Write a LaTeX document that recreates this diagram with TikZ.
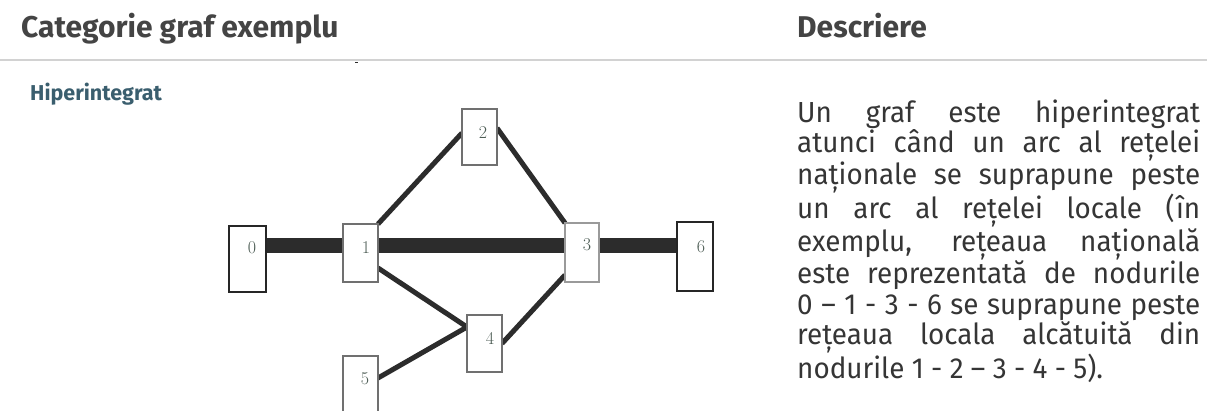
\documentclass[tikz,border=0pt]{standalone}
\usepackage{fontspec}
\newfontfamily\fira{Fira Sans}
\newfontfamily\firanarrow[FakeStretch=0.96]{Fira Sans}
\usetikzlibrary{backgrounds}
\definecolor{headgray}{HTML}{444444}
\definecolor{bodygray}{HTML}{353535}
\definecolor{catteal}{HTML}{3A5E6E}
\definecolor{rulegray}{HTML}{D2D2D2}
\definecolor{edgedark}{HTML}{2C2C2C}
\definecolor{boxgray}{HTML}{707070}
\definecolor{boxlight}{HTML}{9A9A9A}
\definecolor{boxdark}{HTML}{262626}
\definecolor{digitgray}{HTML}{4C5C54}
\tikzset{
  heading/.style={anchor=base west, inner sep=0pt, text=headgray,
    font=\fira\bfseries\fontsize{30}{32}\selectfont},
  catlabel/.style={anchor=base west, inner sep=0pt, text=catteal,
    font=\fira\bfseries\fontsize{21.5}{24}\selectfont},
  gbox/.style={draw=boxgray, line width=1.8pt, fill=white, inner sep=0pt,
    outer sep=0pt, minimum width=35pt, minimum height=57pt},
  digit/.style={text=digitgray, inner sep=0pt, font=\rmfamily\fontsize{18}{18}\selectfont},
  national/.style={draw=edgedark, line width=15pt},
  localedge/.style={draw=edgedark, line width=5pt},
}
\begin{document}
\begin{tikzpicture}[x=1pt, y=1pt]
\useasboundingbox (0,0) rectangle (1207,-410);

% column headings and separator
\node[heading] (hcat) at (21,-37) {Categorie graf exemplu};
\node[heading] (hdesc) at (797,-37) {Descriere};
\draw[rulegray, line width=2pt] (0,-60) -- (1207,-60);
\draw[edgedark, line width=1.2pt] (355,-62.5) -- (358,-62.5);

\node[catlabel] (cat) at (30,-100) {Hiperintegrat};

% graph nodes
\node[gbox, draw=boxdark, minimum width=37pt, minimum height=66pt,
  label={[digit, xshift=4.5pt, yshift=11pt]center:0}] (n0) at (247.5,-259) {};
\node[gbox, minimum height=58pt,
  label={[digit, xshift=5.5pt, yshift=5pt]center:1}] (n1) at (360.5,-253) {};
\node[gbox, minimum height=56pt,
  label={[digit, xshift=3.5pt, yshift=4pt]center:2}] (n2) at (479.5,-137) {};
\node[gbox, draw=boxlight, minimum width=34pt, minimum height=59pt,
  label={[digit, xshift=5pt, yshift=7.5pt]center:3}] (n3) at (582,-252.5) {};
\node[gbox,
  label={[digit, xshift=5.5pt, yshift=5.5pt]center:4}] (n4) at (484.5,-343.5) {};
\node[gbox,
  label={[digit, xshift=4.5pt, yshift=5.5pt]center:5}] (n5) at (360.5,-384.5) {};
\node[gbox, draw=boxdark, minimum width=36pt, minimum height=69pt,
  label={[digit, xshift=6pt, yshift=9.5pt]center:6}] (n6) at (695,-256.5) {};

% level of the national network line
\coordinate (nat) at (0,-245);

\begin{scope}[on background layer]
  \fill[white] (0,0) rectangle (1207,-410);
  % national network 0 - 1 - 3 - 6
  \draw[national] (n0.east |- nat) -- (n1.west |- nat);
  \draw[national] (n1.east |- nat) -- (n3.west |- nat);
  \draw[national] (n3.east |- nat) -- (n6.west |- nat);
  % local network 1 - 2 - 3 - 4 - 5
  \draw[localedge] (n1.north east) -- ([yshift=4pt]n2.west);
  \draw[localedge] ([yshift=9pt]n2.east) -- (n3.north west);
  \draw[localedge] ([yshift=-15pt]n1.east) -- ([yshift=16.5pt]n4.west);
  \draw[localedge] ([yshift=7pt]n3.south west) -- (n4.east);
  \draw[localedge] ([yshift=6.5pt]n5.east) -- ([yshift=16.5pt]n4.west);
\end{scope}

% description
\node[anchor=base west, inner sep=0pt, text width=403pt, align=justify,
  text=bodygray, font=\firanarrow\fontsize{29}{30.4}\selectfont] (desc) at (797,-122)
  {Un graf este hiperintegrat\linebreak
   atunci când un arc al rețelei\linebreak
   naționale se suprapune peste\linebreak
   un arc al rețelei locale (în\linebreak
   exemplu, rețeaua națională\linebreak
   este reprezentată de nodurile\linebreak
   0 – 1 - 3 - 6 se suprapune peste\linebreak
   rețeaua locala alcătuită din\linebreak
   nodurile 1 - 2 – 3 - 4 - 5).};
\end{tikzpicture}
\end{document}
